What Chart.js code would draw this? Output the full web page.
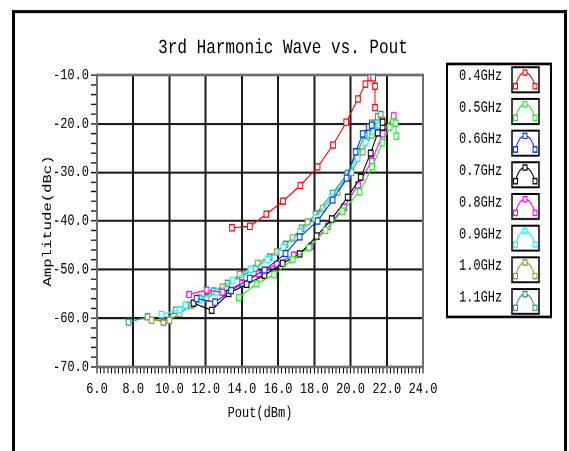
<!DOCTYPE html>
<html>
<head>
<meta charset="utf-8">
<title>3rd Harmonic Wave vs. Pout</title>
<script src="https://cdn.jsdelivr.net/npm/chart.js@4.4.1/dist/chart.umd.min.js"></script>
<style>
  html, body { margin: 0; padding: 0; background: #fff; width: 569px; height: 451px; }
  #page { position: relative; width: 569px; height: 451px; overflow: hidden; }
  /* the source picture is stretched vertically, so draw flat and stretch */
  #wrap { position: absolute; left: 0; top: 0; width: 569px; height: 347px; transform: scaleY(1.29971); transform-origin: 0 0; }
</style>
</head>
<body>
<div id="page"><div id="wrap"><canvas id="mycanvas"></canvas></div></div>
<script>
var freqLabels = ["0.4GHz", "0.5GHz", "0.6GHz", "0.7GHz", "0.8GHz", "0.9GHz", "1.0GHz", "1.1GHz"];

// Pout (dBm) / 3rd harmonic amplitude (dBc) per frequency
var pout04 = [13.45, 14.44, 15.35, 16.27, 17.23, 18.18, 19.03, 19.76, 20.41, 20.82, 21.09, 21.25, 21.35, 21.35];
var amp04  = [-41.4, -41.1, -38.6, -35.9, -32.7, -28.9, -24.4, -19.7, -14.9, -11.85, -10.55, -10.6, -12.3, -16.7];

var pout05 = [13.83, 14.81, 15.78, 16.80, 17.71, 18.62, 19.54, 20.50, 21.20, 21.76, 22.16, 22.34, 22.49, 22.53];
var amp05  = [-55.7, -52.9, -51.05, -47.9, -45.45, -41.9, -38.0, -34.0, -28.9, -23.9, -20.7, -19.6, -19.9, -22.55];

var pout06 = [11.50, 12.52, 13.41, 14.43, 15.25, 16.41, 17.19, 18.18, 19.01, 19.78, 20.28, 20.67, 21.00, 21.17];
var amp06  = [-55.95, -56.7, -54.3, -51.8, -50.1, -46.7, -43.3, -40.0, -35.7, -31.2, -25.8, -22.1, -20.7, -20.3];

var pout07 = [11.33, 12.33, 13.27, 14.26, 15.25, 16.25, 17.19, 18.13, 18.96, 19.84, 20.56, 21.11, 21.50, 21.77, 21.77];
var amp07  = [-56.9, -58.35, -54.9, -53.0, -51.15, -48.7, -46.8, -43.1, -39.6, -35.1, -31.0, -26.05, -21.9, -20.7, -19.7];

var pout08 = [11.08, 12.05, 12.93, 14.01, 14.92, 15.92, 16.86, 17.80, 18.74, 19.64, 20.41, 21.17, 21.77, 22.38];
var amp08  = [-55.1, -54.2, -54.65, -52.8, -50.85, -48.9, -47.0, -45.2, -41.1, -37.2, -32.6, -27.7, -22.1, -18.4];

var pout09 = [9.56, 10.56, 10.89, 11.66, 12.60, 13.49, 14.48, 15.42, 16.30, 17.19, 18.07, 18.95, 19.83, 20.39, 20.83, 21.22, 21.55];
var amp09  = [-59.2, -58.25, -57.3, -56.1, -54.65, -52.2, -49.9, -47.9, -45.4, -42.3, -39.4, -35.1, -30.8, -27.1, -23.8, -21.5, -20.3];

var pout10 = [9.01, 10.00, 10.56, 11.22, 12.05, 12.93, 13.87, 14.87, 15.92, 16.80, 17.63, 18.46, 19.29, 20.06, 20.67, 21.17, 21.50, 21.77];
var amp10  = [-60.4, -60.4, -59.0, -57.3, -55.9, -53.6, -51.0, -48.7, -46.4, -43.5, -40.2, -37.4, -34.1, -30.0, -25.8, -22.35, -20.3, -19.3];

var pout11 = [7.74, 8.79, 9.67, 10.34, 10.94, 11.66, 12.44, 13.21, 13.98, 14.76, 15.53, 16.41, 17.30, 18.07, 19.01, 19.84, 20.39, 20.78, 21.17, 21.50, 21.66];
var amp11  = [-60.8, -59.7, -60.8, -58.35, -57.3, -55.9, -54.4, -52.8, -51.4, -49.75, -47.4, -44.8, -41.5, -38.6, -34.3, -30.2, -25.8, -22.35, -19.9, -18.6, -18.1];

var poutData = [pout04, pout05, pout06, pout07, pout08, pout09, pout10, pout11];
var ampData = [amp04, amp05, amp06, amp07, amp08, amp09, amp10, amp11];
var lineColors = ["#ff0000", "#22ee22", "#0033ff", "#000000", "#ff00ff", "#00ffff", "#999933", "#339966"];

var monoFont = "'Liberation Mono', 'DejaVu Sans Mono', monospace";

function isMajorX(v) { return Math.abs(v / 2 - Math.round(v / 2)) < 1e-6; }
function isMajorY(v) { return Math.abs(v / 10 - Math.round(v / 10)) < 1e-6; }

var datasets = [];
for (var i = 0; i < freqLabels.length; i++) {
  var xyval = [];
  for (var j = 0; j < poutData[i].length; j++) {
    xyval.push({ x: poutData[i][j], y: ampData[i][j] });
  }
  datasets.push({
    label: freqLabels[i],
    data: xyval,
    showLine: true,
    fill: false,
    tension: 0,
    borderColor: lineColors[i],
    backgroundColor: lineColors[i],
    borderWidth: 1,
    pointStyle: 'rect',
    pointRadius: 3.3,
    pointBorderWidth: 1,
    pointBorderColor: lineColors[i],
    pointBackgroundColor: '#ffffff'
  });
}

// frame, title, plot border and the boxed legend
var decor = {
  id: 'decor',
  beforeDatasetsDraw: function(chart) {
    var ctx = chart.ctx, a = chart.chartArea;
    ctx.save();
    ctx.strokeStyle = '#6e6e6e';
    ctx.lineWidth = 2;
    ctx.strokeRect(a.left, a.top, a.right - a.left, a.bottom - a.top);
    ctx.restore();
  },
  afterDraw: function(chart) {
    var ctx = chart.ctx;
    ctx.save();
    ctx.fillStyle = '#000';
    ctx.fillRect(12, 7.7, 555, 2.4);
    ctx.fillRect(12, 7.7, 3, 340);
    ctx.fillRect(564, 7.7, 3, 340);

    ctx.font = "16px " + monoFont;
    ctx.textAlign = 'center';
    ctx.textBaseline = 'middle';
    ctx.fillText('3rd Harmonic Wave vs. Pout', 283, 37);

    // legend box
    ctx.lineWidth = 2;
    ctx.strokeStyle = '#000';
    ctx.strokeRect(447, 49.2, 104, 194.6);
    ctx.font = "12px " + monoFont;
    ctx.textAlign = 'left';
    var ds = chart.data.datasets;
    for (var k = 0; k < ds.length; k++) {
      var top = 51.8 + k * 24.36;
      ctx.fillStyle = '#000';
      ctx.fillText(ds[k].label, 459, top + 6.5);
      ctx.lineWidth = 1.5;
      ctx.strokeStyle = '#000';
      ctx.strokeRect(512, top, 27, 19.2);
      var px = [515.5, 525, 535], py = [top + 14.5, top + 4, top + 14.5];
      ctx.strokeStyle = ds[k].borderColor;
      ctx.lineWidth = 1;
      ctx.beginPath();
      ctx.moveTo(px[0], py[0]);
      ctx.quadraticCurveTo(519, top + 4, px[1], py[1]);
      ctx.quadraticCurveTo(531, top + 4, px[2], py[2]);
      ctx.stroke();
      for (var m = 0; m < 3; m++) {
        ctx.fillStyle = '#fff';
        ctx.fillRect(px[m] - 2, py[m] - 2, 4, 4);
        ctx.strokeRect(px[m] - 2, py[m] - 2, 4, 4);
      }
    }
    ctx.restore();
  }
};

var ctx = document.getElementById('mycanvas');

var HarmonicChart = new Chart(ctx, {
  type: 'scatter',
  data: { datasets: datasets },
  plugins: [decor],
  options: {
    animation: false,
    responsive: true,
    maintainAspectRatio: false,
    devicePixelRatio: 2,
    events: [],
    layout: { padding: { top: 57.7, right: 146, left: 0, bottom: 0 } },
    scales: {
      x: {
        type: 'linear',
        min: 6,
        max: 24,
        afterFit: function(scale) { scale.height = 64.7; },
        border: { display: false },
        grid: {
          color: function(c) {
            var v = c.tick ? c.tick.value : 0;
            return (isMajorX(v) && v > 6.01 && v < 23.99) ? '#1a1a1a' : 'rgba(0,0,0,0)';
          },
          lineWidth: 2,
          tickLength: 5,
          tickColor: '#000',
          tickWidth: 1
        },
        ticks: {
          stepSize: 0.2,
          autoSkip: false,
          maxRotation: 0,
          padding: 5,
          color: '#000',
          font: { family: monoFont, size: 12 },
          callback: function(v) { return isMajorX(v) ? Number(v).toFixed(1) : ''; }
        },
        title: {
          display: true,
          text: 'Pout(dBm)',
          color: '#000',
          font: { family: monoFont, size: 12 },
          padding: { top: 0, bottom: 22.1 }
        }
      },
      y: {
        type: 'linear',
        min: -70,
        max: -10,
        afterFit: function(scale) { scale.width = 97; },
        border: { display: false },
        grid: {
          color: function(c) {
            var v = c.tick ? c.tick.value : 0;
            return (isMajorY(v) && v > -69.9 && v < -10.1) ? '#1a1a1a' : 'rgba(0,0,0,0)';
          },
          lineWidth: 1.6,
          tickLength: 6,
          tickColor: '#000',
          tickWidth: 1
        },
        ticks: {
          stepSize: 2,
          autoSkip: false,
          padding: 2,
          color: '#000',
          font: { family: monoFont, size: 12 },
          callback: function(v) { return isMajorY(v) ? Number(v).toFixed(1) : ''; }
        },
        title: {
          display: true,
          text: 'Amplitude(dBc)',
          color: '#000',
          font: { family: monoFont, size: 12 },
          padding: { top: 40.8, bottom: 0 }
        }
      }
    },
    plugins: {
      legend: { display: false },
      tooltip: { enabled: false },
      title: { display: false }
    }
  }
});
</script>
</body>
</html>
